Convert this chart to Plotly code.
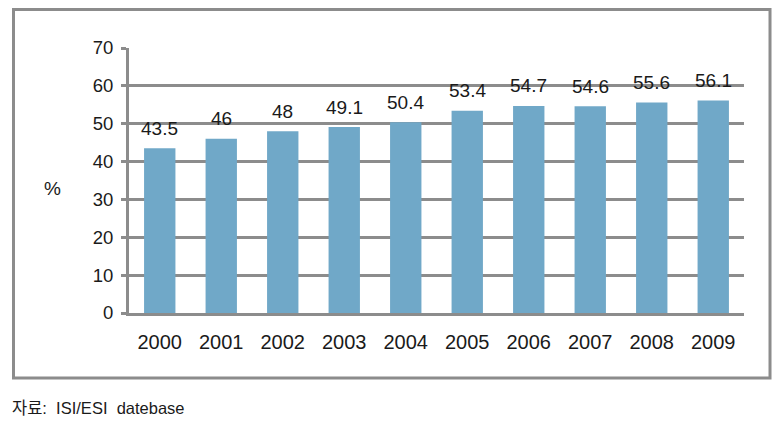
import plotly.graph_objects as go

years = ["2000", "2001", "2002", "2003", "2004", "2005", "2006", "2007", "2008", "2009"]
values = [43.5, 46, 48, 49.1, 50.4, 53.4, 54.7, 54.6, 55.6, 56.1]
value_labels = ["43.5", "46", "48", "49.1", "50.4", "53.4", "54.7", "54.6", "55.6", "56.1"]
y_ticks = [0, 10, 20, 30, 40, 50, 60, 70]

GRAY = "#8c8c8c"
TEXT = "#1a1a1a"
FONT = "Liberation Sans, Arial, Noto Sans CJK KR"

fig = go.Figure()
fig.add_trace(go.Bar(
    x=years,
    y=values,
    marker=dict(color="#70a8c8", line=dict(width=0)),
    showlegend=False,
    hoverinfo="x+y",
))

# value labels sitting above each bar (category index, since "2000" would be read as a number)
labels = [
    dict(x=i, y=v, text=t, xref="x", yref="y", showarrow=False,
         yanchor="middle", yshift=20, font=dict(size=19, color=TEXT))
    for i, (v, t) in enumerate(zip(values, value_labels))
]

# page has an 8px body margin, so the figure is a bit smaller than the window
fig.update_layout(
    width=775,
    height=422,
    margin=dict(l=121, r=39, t=40, b=117),
    paper_bgcolor="white",
    plot_bgcolor="white",
    bargap=0.49,
    font=dict(family=FONT, size=18, color=TEXT),
    xaxis=dict(
        type="category",
        showgrid=False,
        showline=True,
        linecolor=GRAY,
        linewidth=3,
        ticks="",
        ticklabelstandoff=9,
        tickfont=dict(size=20, color=TEXT),
    ),
    yaxis=dict(
        range=[0, 70],
        tickvals=y_ticks,
        showgrid=True,
        gridcolor=GRAY,
        gridwidth=3,
        zeroline=False,
        showline=True,
        linecolor=GRAY,
        linewidth=3,
        ticks="outside",
        ticklen=5,
        tickwidth=3,
        tickcolor=GRAY,
        ticklabelstandoff=4,
        tickfont=dict(size=18.5, color=TEXT),
    ),
    shapes=[dict(
        type="rect", xref="paper", yref="paper",
        x0=-0.1878, x1=1.0423, y0=-0.2453, y1=1.1453,
        line=dict(color=GRAY, width=3),
        fillcolor="rgba(0,0,0,0)",
        layer="below",
    )],
    annotations=labels + [
        dict(text="%", xref="paper", yref="paper",
             x=(52 - 129) / 615, y=(313 - 188) / 265,
             xanchor="center", yanchor="middle", showarrow=False,
             font=dict(size=19, color=TEXT)),
        dict(text="자료:  ISI/ESI  datebase", xref="paper", yref="paper",
             x=(10 - 129) / 615, y=(313 - 408) / 265,
             xanchor="left", yanchor="middle", showarrow=False,
             font=dict(size=16.5, color=TEXT)),
    ],
)

fig.write_html("out.html")
